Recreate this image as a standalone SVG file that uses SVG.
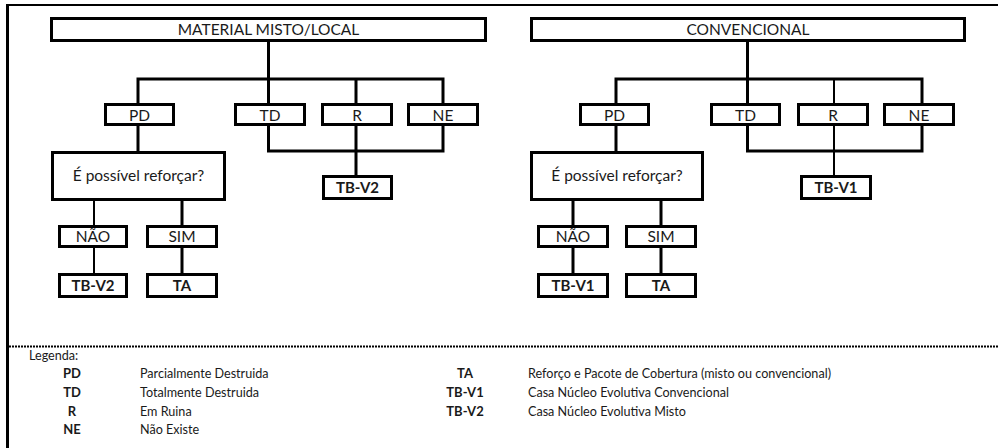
<svg xmlns="http://www.w3.org/2000/svg" width="998" height="448" viewBox="0 0 998 448">
<style>
  .box { fill: #fff; stroke: #000; stroke-width: 3; }
  .c3 { stroke: #000; stroke-width: 3; fill: none; stroke-linecap: square; }
  .c2 { stroke: #000; stroke-width: 2; fill: none; }
  text { font-family: Lato, "Noto Sans", "Liberation Sans", sans-serif; fill: #1a1a1a; }
  .t { font-size: 15.5px; text-anchor: middle; }
  .q { font-size: 15.5px; text-anchor: middle; }
  .b { font-size: 15px; font-weight: bold; text-anchor: middle; }
  .lg { font-size: 12.6px; }
  .lb { font-size: 13px; font-weight: bold; text-anchor: middle; }
</style>
<rect x="0" y="0" width="998" height="448" fill="#fff"/>
<g id="frame">
  <line x1="6" y1="5" x2="998" y2="5" stroke="#000" stroke-width="2"/>
  <line x1="7.5" y1="4" x2="7.5" y2="448" stroke="#000" stroke-width="3"/>
  <line x1="9" y1="346.5" x2="998" y2="346.5" stroke="#000" stroke-width="2" stroke-dasharray="2,1"/>
</g>
<g id="connectors">
  <!-- left tree -->
  <path class="c3" d="M268.5 42 V79 M138 79 H443 M138 79 V103 M268.5 79 V103 M356 79 V103 M443 79 V103"/>
  <path class="c3" d="M138 126 V151 M268.5 126 V151 M356 126 V151 M443 126 V151 M268.5 151 H443 M356 151 V175"/>
  <path class="c2" d="M94 201 V225 M94 248 V273"/>
  <path class="c3" d="M182 201 V225 M182 248 V273"/>
  <!-- right tree -->
  <path class="c3" d="M747.5 42 V79 M616 79 H922 M616 79 V103 M747.5 79 V103 M922 79 V103"/>
  <path class="c2" d="M834 79 V103 M834 126 V175"/>
  <path class="c3" d="M616 126 V151 M747.5 126 V151 M922 126 V151 M747.5 151 H922"/>
  <path class="c3" d="M573 201 V225 M573 248 V273 M661 201 V225 M661 248 V273"/>
</g>
<g id="n-material">
  <rect class="box" x="51.5" y="18.5" width="434" height="22"/>
  <text class="t" x="268.5" y="35">MATERIAL MISTO/LOCAL</text>
</g>
<g id="n-l-pd"><rect class="box" x="105.5" y="104.5" width="68" height="20"/><text class="t" x="139.5" y="120.5">PD</text></g>
<g id="n-l-td"><rect class="box" x="235.5" y="104.5" width="69" height="20"/><text class="t" x="270" y="120.5">TD</text></g>
<g id="n-l-r"><rect class="box" x="322.5" y="104.5" width="69" height="20"/><text class="t" x="357" y="120.5">R</text></g>
<g id="n-l-ne"><rect class="box" x="408.5" y="104.5" width="69" height="20"/><text class="t" x="443" y="120.5">NE</text></g>
<g id="n-l-q"><rect class="box" x="52.5" y="152.5" width="172" height="47"/><text class="q" x="138.5" y="181">É possível reforçar?</text></g>
<g id="n-l-tbv2r"><rect class="box" x="323.5" y="176.5" width="68" height="22"/><text class="b" x="357.5" y="193">TB-V2</text></g>
<g id="n-l-nao"><rect class="box" x="59.5" y="226.5" width="67" height="20"/><text class="t" x="93" y="242">NÃO</text></g>
<g id="n-l-sim"><rect class="box" x="147.5" y="226.5" width="69" height="20"/><text class="t" x="182" y="242">SIM</text></g>
<g id="n-l-tbv2"><rect class="box" x="59.5" y="274.5" width="67" height="22"/><text class="b" x="93" y="291">TB-V2</text></g>
<g id="n-l-ta"><rect class="box" x="147.5" y="274.5" width="69" height="22"/><text class="b" x="182" y="291">TA</text></g>

<g id="n-convencional">
  <rect class="box" x="531.5" y="18.5" width="433" height="22"/>
  <text class="t" x="748" y="35">CONVENCIONAL</text>
</g>
<g id="n-r-pd"><rect class="box" x="580.5" y="104.5" width="68" height="20"/><text class="t" x="614.5" y="120.5">PD</text></g>
<g id="n-r-td"><rect class="box" x="711.5" y="104.5" width="68" height="20"/><text class="t" x="745.5" y="120.5">TD</text></g>
<g id="n-r-r"><rect class="box" x="798.5" y="104.5" width="69" height="20"/><text class="t" x="833" y="120.5">R</text></g>
<g id="n-r-ne"><rect class="box" x="884.5" y="104.5" width="69" height="20"/><text class="t" x="919" y="120.5">NE</text></g>
<g id="n-r-q"><rect class="box" x="531.5" y="152.5" width="171" height="47"/><text class="q" x="617" y="181">É possível reforçar?</text></g>
<g id="n-r-tbv1r"><rect class="box" x="801.5" y="176.5" width="69" height="22"/><text class="b" x="836" y="193">TB-V1</text></g>
<g id="n-r-nao"><rect class="box" x="538.5" y="226.5" width="69" height="20"/><text class="t" x="573" y="242">NÃO</text></g>
<g id="n-r-sim"><rect class="box" x="626.5" y="226.5" width="69" height="20"/><text class="t" x="661" y="242">SIM</text></g>
<g id="n-r-tbv1"><rect class="box" x="538.5" y="274.5" width="69" height="22"/><text class="b" x="573" y="291">TB-V1</text></g>
<g id="n-r-ta"><rect class="box" x="626.5" y="274.5" width="69" height="22"/><text class="b" x="661" y="291">TA</text></g>

<g id="legend">
  <text class="lg" x="29" y="360">Legenda:</text>
  <text class="lb" x="72" y="378">PD</text>
  <text class="lb" x="72" y="397">TD</text>
  <text class="lb" x="72" y="415.5">R</text>
  <text class="lb" x="72" y="434">NE</text>
  <text class="lg" x="140" y="378">Parcialmente Destruida</text>
  <text class="lg" x="140" y="397">Totalmente Destruida</text>
  <text class="lg" x="140" y="415.5">Em Ruina</text>
  <text class="lg" x="140" y="434">Não Existe</text>
  <text class="lb" x="465" y="378">TA</text>
  <text class="lb" x="465" y="397">TB-V1</text>
  <text class="lb" x="465" y="415.5">TB-V2</text>
  <text class="lg" x="528" y="378">Reforço e Pacote de Cobertura (misto ou convencional)</text>
  <text class="lg" x="528" y="397">Casa Núcleo Evolutiva Convencional</text>
  <text class="lg" x="528" y="415.5">Casa Núcleo Evolutiva Misto</text>
</g>
</svg>
